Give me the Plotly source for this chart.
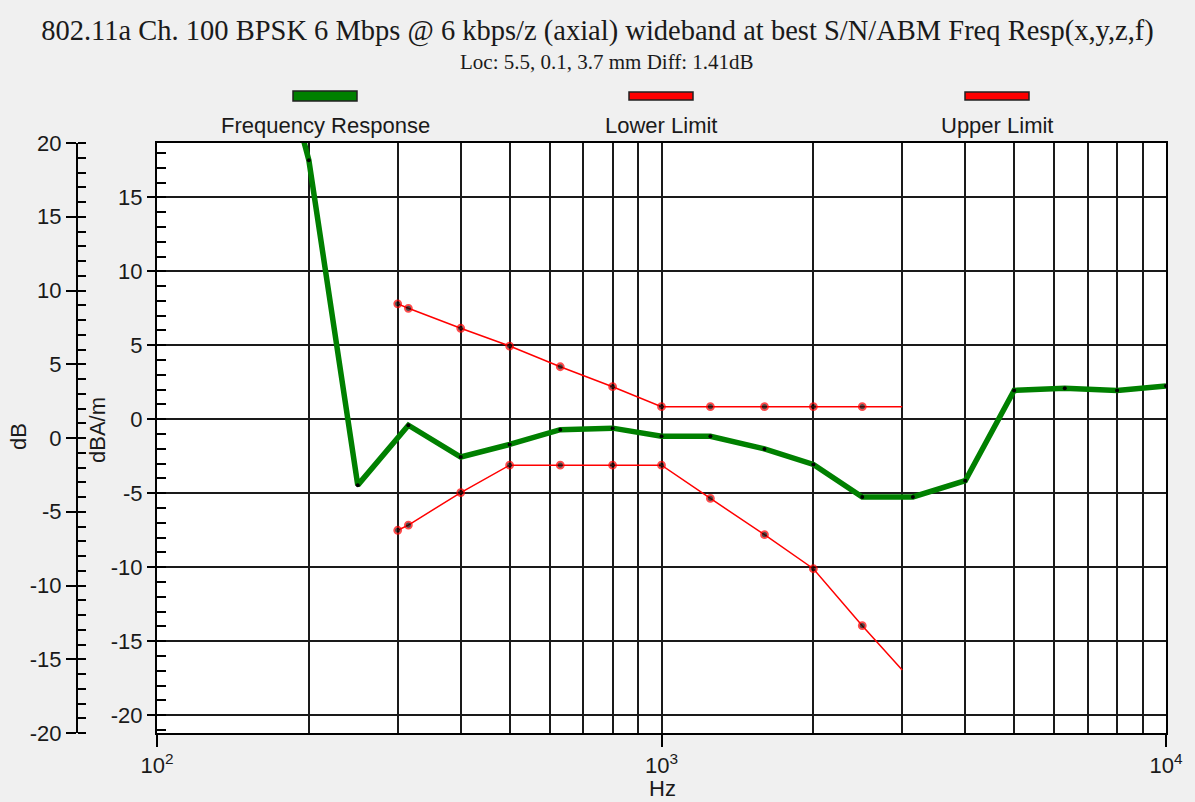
import plotly.graph_objects as go

# ---------------- data ----------------
freq_response_hz = [160, 200, 250, 315, 400, 500, 630, 800, 1000, 1250, 1600, 2000,
                    2500, 3150, 4000, 5000, 6300, 8000, 10000]
freq_response_db = [30.0, 17.5, -4.45, -0.4, -2.55, -1.7, -0.7, -0.6, -1.15, -1.15, -2.0,
                    -3.05, -5.25, -5.25, -4.15, 1.95, 2.1, 1.95, 2.25]

limit_hz = [300, 315, 400, 500, 630, 800, 1000, 1250, 1600, 2000, 2500, 3000]
lower_limit_db = [-7.5, -7.15, -4.95, -3.1, -3.1, -3.1, -3.1, -5.35, -7.8, -10.1, -13.95, -16.95]
upper_limit_db = [7.8, 7.5, 6.15, 4.95, 3.55, 2.2, 0.85, 0.85, 0.85, 0.85, 0.85, 0.85]

series_names = ["Frequency Response", "Lower Limit", "Upper Limit"]
series_colors = ["#008000", "#ff0000", "#ff0000"]

x_major_ticks = [100, 1000, 10000]
x_major_text = ["10<sup>2</sup>", "10<sup>3</sup>", "10<sup>4</sup>"]
x_grid_minor = [200, 300, 400, 500, 600, 700, 800, 900,
                2000, 3000, 4000, 5000, 6000, 7000, 8000, 9000]

y_inner_ticks = [15, 10, 5, 0, -5, -10, -15, -20]
y_outer_ticks = [20, 15, 10, 5, 0, -5, -10, -15, -20]

title_text = "802.11a Ch. 100 BPSK 6 Mbps @ 6 kbps/z (axial) wideband at best S/N/ABM Freq Resp(x,y,z,f)"
subtitle_text = "Loc: 5.5, 0.1, 3.7 mm Diff: 1.41dB"

# ---------------- geometry helpers ----------------
W, H = 1195, 802
ML, MR, MT, MB = 40, 29, 143, 69
PW = W - ML - MR
PH = H - MT - MB


def px_x(p):
    return (p - ML) / PW


def px_y(p):
    return (H - MB - p) / PH


SANS = "Liberation Sans, Arial, sans-serif"
SERIF = "Liberation Serif, Times New Roman, serif"
TXT = "#1a1a1a"
GRID = "#1a1a1a"
FS = 22

fig = go.Figure()

fig.add_trace(go.Scatter(
    x=freq_response_hz, y=freq_response_db, mode="lines+markers",
    name=series_names[0],
    line=dict(color=series_colors[0], width=5.5),
    marker=dict(color="black", size=4),
))
n = len(limit_hz)
fig.add_trace(go.Scatter(
    x=limit_hz, y=lower_limit_db, mode="lines+markers", name=series_names[1],
    line=dict(color=series_colors[1], width=1.5),
    marker=dict(color="black", size=[7] * (n - 1) + [0], line=dict(color="red", width=1.8)),
))
fig.add_trace(go.Scatter(
    x=limit_hz, y=upper_limit_db, mode="lines+markers", name=series_names[2],
    line=dict(color=series_colors[2], width=1.5),
    marker=dict(color="black", size=[7] * (n - 1) + [0], line=dict(color="red", width=1.8)),
))
# empty trace so the outer "dB" axis is drawn
fig.add_trace(go.Scatter(x=[], y=[], yaxis="y2", showlegend=False, hoverinfo="skip"))

fig.update_layout(
    width=W, height=H,
    margin=dict(l=ML, r=MR, t=MT, b=MB),
    paper_bgcolor="#f0f0f0",
    plot_bgcolor="white",
    showlegend=False,
    title=dict(text=title_text, x=0.5, xanchor="center", y=1 - 30 / H, yanchor="middle",
               yref="container", font=dict(family=SERIF, size=28.5, color=TXT)),
    xaxis=dict(
        type="log", range=[2, 4], domain=[px_x(157), 1],
        tickmode="array", tickvals=x_major_ticks, ticktext=x_major_text,
        ticks="outside", ticklen=12, tickwidth=2, tickcolor="black",
        showgrid=True, gridcolor=GRID, gridwidth=1.6,
        minor=dict(tickmode="array", tickvals=x_grid_minor, showgrid=True,
                   gridcolor=GRID, gridwidth=1.6, ticks=""),
        showline=True, linecolor="black", linewidth=2, mirror=True,
        zeroline=False,
        tickfont=dict(family=SANS, size=FS, color=TXT),
    ),
    yaxis=dict(
        range=[-21.2, 18.67], tickmode="array", tickvals=y_inner_ticks,
        ticktext=[str(v) for v in y_inner_ticks],
        ticks="outside", ticklen=8, tickwidth=2, tickcolor="black",
        minor=dict(tickmode="linear", tick0=0, dtick=1, ticks="inside", ticklen=9,
                   tickwidth=2, tickcolor="black", showgrid=False),
        showgrid=True, gridcolor=GRID, gridwidth=1.6,
        showline=True, linecolor="black", linewidth=2, mirror=True,
        zeroline=False,
        tickfont=dict(family=SANS, size=FS, color=TXT),
    ),
    yaxis2=dict(
        overlaying="y", anchor="free", position=px_x(77), side="left",
        range=[-20, 20], tickmode="array", tickvals=y_outer_ticks,
        ticktext=[str(v) for v in y_outer_ticks],
        ticks="outside", ticklen=10, tickwidth=2, tickcolor="black",
        minor=dict(tickmode="linear", tick0=0, dtick=1, ticks="inside", ticklen=8,
                   tickwidth=2, tickcolor="black", showgrid=False),
        showgrid=False, zeroline=False,
        showline=True, linecolor="black", linewidth=2,
        tickfont=dict(family=SANS, size=FS, color=TXT),
    ),
)

annotations = [
    dict(text=subtitle_text, x=px_x(607), y=px_y(62), xref="paper", yref="paper",
         showarrow=False, font=dict(family=SERIF, size=21, color=TXT),
         xanchor="center", yanchor="middle"),
    dict(text="Hz", x=px_x(662), y=px_y(788), xref="paper", yref="paper",
         showarrow=False, font=dict(family=SANS, size=FS, color=TXT),
         xanchor="center", yanchor="middle"),
    dict(text="dB", x=px_x(18), y=px_y(436), xref="paper", yref="paper",
         showarrow=False, textangle=-90, font=dict(family=SANS, size=FS, color=TXT),
         xanchor="center", yanchor="middle"),
    dict(text="dBA/m", x=px_x(97), y=px_y(430), xref="paper", yref="paper",
         showarrow=False, textangle=-90, font=dict(family=SANS, size=FS, color=TXT),
         xanchor="center", yanchor="middle"),
]

shapes = []
legend_centers = [325, 661, 997]
for name, color, cx in zip(series_names, series_colors, legend_centers):
    hh = 5 if color == "#008000" else 4
    shapes.append(dict(type="rect", xref="paper", yref="paper",
                       x0=px_x(cx - 32), x1=px_x(cx + 32),
                       y0=px_y(96 + hh), y1=px_y(96 - hh),
                       fillcolor=color, line=dict(color="#202020", width=1.5)))
    annotations.append(dict(text=name, x=px_x(cx), y=px_y(125), xref="paper", yref="paper",
                            showarrow=False, font=dict(family=SANS, size=FS, color=TXT),
                            xanchor="center", yanchor="middle"))

fig.update_layout(annotations=annotations, shapes=shapes)

fig.write_html("out.html", config={"displayModeBar": False},
               post_script="document.body.style.margin='0';")
